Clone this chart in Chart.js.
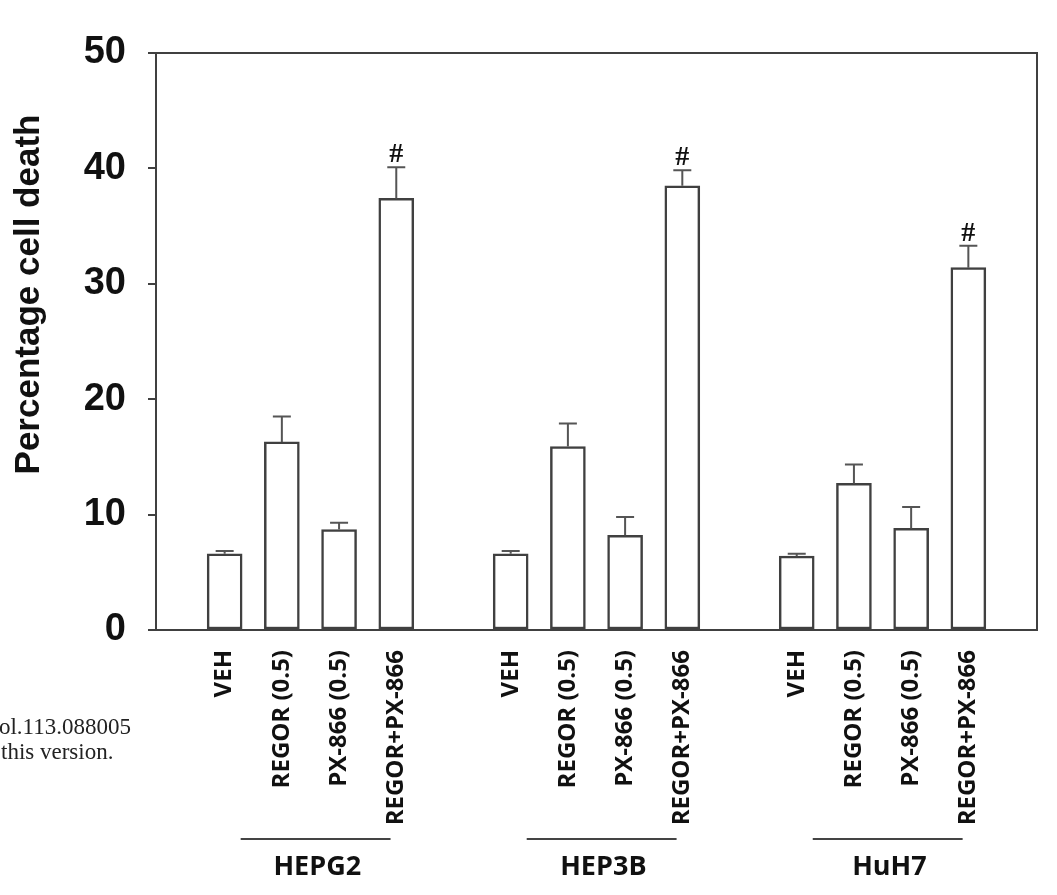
<!DOCTYPE html>
<html>
<head>
<meta charset="utf-8">
<script src="https://cdn.jsdelivr.net/npm/chart.js@4.4.0/dist/chart.umd.min.js"></script>
<style>
  body { margin: 0; background: #fff; }
  #wrap { width: 1057px; height: 895px; position: relative; }
</style>
</head>
<body>
<div id="wrap"><canvas id="grafico"></canvas></div>
<script>
const grupos = ['HEPG2', 'HEP3B', 'HuH7']
const tratamentos = ['VEH', 'REGOR (0.5)', 'PX-866 (0.5)', 'REGOR+PX-866']
const yTicks = [0, 10, 20, 30, 40, 50]

// media e erro
const mediaHEPG2 = [6.6, 16.3, 8.7, 37.4]
const erroHEPG2 = [0.25, 2.2, 0.6, 2.7]
const mediaHEP3B = [6.6, 15.9, 8.2, 38.5]
const erroHEP3B = [0.25, 2.0, 1.6, 1.35]
const mediaHuH7 = [6.4, 12.7, 8.8, 31.4]
const erroHuH7 = [0.2, 1.65, 1.85, 1.9]
const marcas = ['', '', '', '#']

const medias = [mediaHEPG2, mediaHEP3B, mediaHuH7]
const erros = [erroHEPG2, erroHEP3B, erroHuH7]

// cada grupo ocupa 4 posicoes + 1 vazia
const pontos = []
const posicoes = []
medias.forEach((serie, g) => {
    serie.forEach((v, i) => {
        pontos.push({ x: g * 5 + i, y: v })
        posicoes.push(g * 5 + i)
    })
})

const cor = '#404040'

const extras = {
    id: 'extras',
    beforeDraw(chart) {
        const { ctx, width, height } = chart
        ctx.save()
        ctx.fillStyle = '#fff'
        ctx.fillRect(0, 0, width, height)
        ctx.restore()
    },
    afterDatasetsDraw(chart) {
        const { ctx, chartArea: a, scales: { x, y } } = chart
        ctx.save()

        // moldura superior e direita
        ctx.strokeStyle = cor
        ctx.lineWidth = 2
        ctx.beginPath()
        ctx.moveTo(a.left, a.top)
        ctx.lineTo(a.right, a.top)
        ctx.lineTo(a.right, a.bottom)
        ctx.stroke()

        // barras de erro + marcas #
        ctx.strokeStyle = '#555'
        ctx.lineWidth = 2
        medias.forEach((serie, g) => {
            serie.forEach((m, i) => {
                const px = x.getPixelForValue(g * 5 + i)
                const y0 = y.getPixelForValue(m)
                const y1 = y.getPixelForValue(m + erros[g][i])
                ctx.beginPath()
                ctx.moveTo(px, y0)
                ctx.lineTo(px, y1)
                ctx.moveTo(px - 9, y1)
                ctx.lineTo(px + 9, y1)
                ctx.stroke()
                if (marcas[i]) {
                    ctx.fillStyle = '#111'
                    ctx.font = 'bold 28px "Liberation Serif"'
                    ctx.textAlign = 'center'
                    ctx.textBaseline = 'alphabetic'
                    ctx.fillText(marcas[i], px, y1 - 5)
                }
            })
        })

        // linhas e nomes dos grupos
        grupos.forEach((nome, g) => {
            const x0 = x.getPixelForValue(g * 5 + 0.28)
            const x1 = x.getPixelForValue(g * 5 + 2.9)
            const yl = a.bottom + 209
            ctx.strokeStyle = '#444'
            ctx.lineWidth = 2
            ctx.beginPath()
            ctx.moveTo(x0, yl)
            ctx.lineTo(x1, yl)
            ctx.stroke()
            ctx.fillStyle = '#111'
            ctx.font = 'bold 27px "Open Sans"'
            ctx.textAlign = 'center'
            ctx.textBaseline = 'middle'
            ctx.fillText(nome, x.getPixelForValue(g * 5 + 1.62), a.bottom + 237)
        })

        // titulo do eixo y
        ctx.save()
        ctx.translate(39, (a.top + a.bottom) / 2 - 47)
        ctx.rotate(-Math.PI / 2)
        ctx.fillStyle = '#111'
        ctx.font = 'bold 35px "Liberation Sans"'
        ctx.textAlign = 'center'
        ctx.textBaseline = 'alphabetic'
        ctx.fillText('Percentage cell death', 0, 0)
        ctx.restore()

        // texto cortado na margem esquerda
        ctx.fillStyle = '#222'
        ctx.font = '23px "Liberation Serif"'
        ctx.textBaseline = 'alphabetic'
        ctx.textAlign = 'right'
        ctx.fillText('mol.113.088005', 131, 734)
        ctx.textAlign = 'left'
        ctx.fillText('this version.', 1, 759)

        ctx.restore()
    }
}

const ctx = document.getElementById('grafico').getContext('2d')

const grafico = new Chart(ctx, {
    type: 'bar',
    data: {
        datasets: [{
            data: pontos,
            backgroundColor: '#fff',
            borderColor: cor,
            borderWidth: 2.5,
            borderSkipped: false,
            barThickness: 35
        }]
    },
    options: {
        responsive: true,
        maintainAspectRatio: false,
        animation: false,
        layout: { padding: { top: 53, right: 20, left: 0, bottom: 0 } },
        plugins: {
            legend: { display: false },
            tooltip: { enabled: false }
        },
        scales: {
            x: {
                type: 'linear',
                offset: false,
                min: -1.2,
                max: 14.2,
                afterBuildTicks: axis => { axis.ticks = posicoes.map(v => ({ value: v })) },
                afterFit: axis => { axis.height = 265 },
                grid: { display: true, drawOnChartArea: false, drawTicks: false },
                border: { display: true, color: cor, width: 2 },
                ticks: {
                    autoSkip: false,
                    minRotation: 90,
                    maxRotation: 90,
                    padding: 20,
                    color: '#111',
                    font: { family: 'Open Sans', weight: 'bold', size: 24 },
                    callback: v => tratamentos[v % 5]
                }
            },
            y: {
                min: 0,
                max: 50,
                afterBuildTicks: axis => { axis.ticks = yTicks.map(v => ({ value: v })) },
                afterFit: axis => { axis.width = 156 },
                grid: { drawOnChartArea: false, drawTicks: true, tickLength: 8, color: cor, lineWidth: 2 },
                border: { display: true, color: cor, width: 2 },
                ticks: {
                    padding: 22,
                    color: '#111',
                    font: { family: 'Liberation Sans', weight: 'bold', size: 38 }
                }
            }
        }
    },
    plugins: [extras]
})
</script>
</body>
</html>
